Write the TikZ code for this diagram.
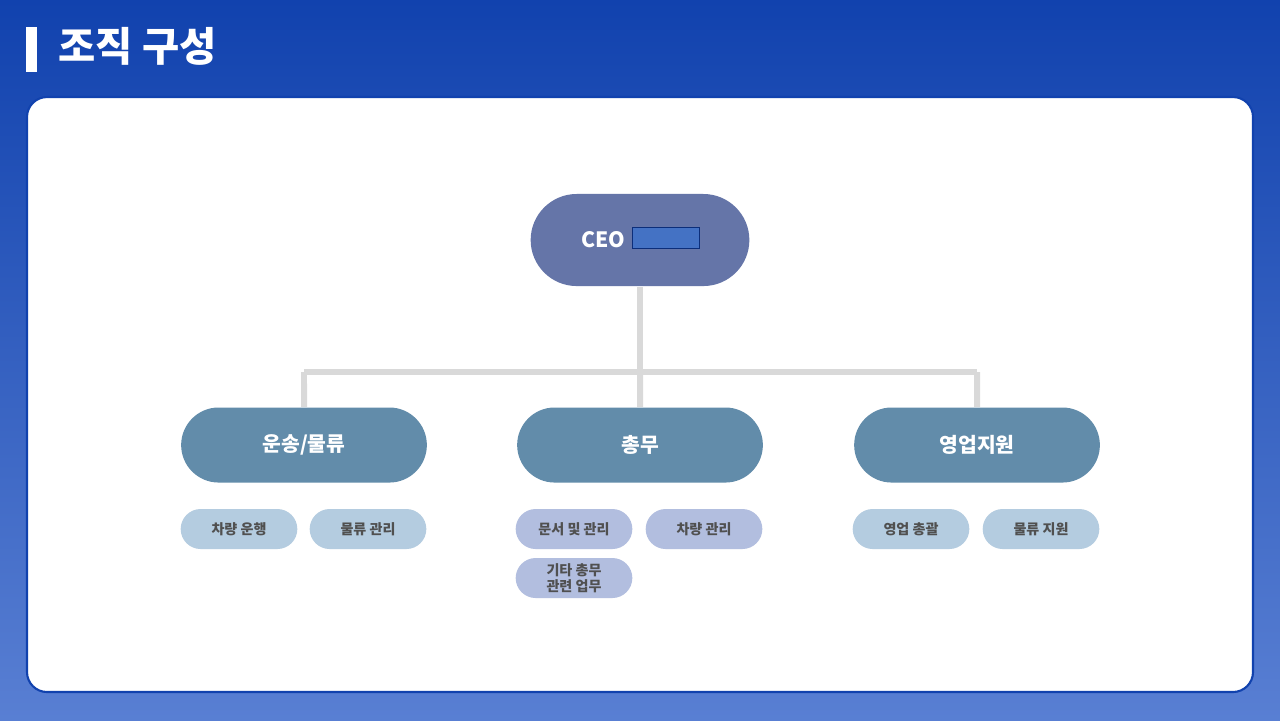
\documentclass[tikz,border=0pt]{standalone}
\usepackage{fontspec}
\setmainfont{Noto Sans CJK KR}
\usepackage{xcolor}
\usepackage{tikz}
\usetikzlibrary{positioning,shapes}
\definecolor{bgblue}{HTML}{2F5FC8}
\definecolor{topblue}{HTML}{1142AE}
\definecolor{ceocol}{HTML}{6575A8}
\definecolor{deptcol}{HTML}{628CAA}
\definecolor{taskA}{HTML}{B4CCE0}
\definecolor{taskB}{HTML}{B2BEDF}
\definecolor{linkgray}{HTML}{D9D9D9}
\definecolor{taskText}{HTML}{505050}
\definecolor{maskblue}{HTML}{4472C4}

\begin{document}
\begin{tikzpicture}[x=0.01cm,y=-0.01cm,
    ceo/.style={draw=none, rounded rectangle, fill=ceocol, minimum width=2.42cm, minimum height=0.92cm, text=white, font=\bfseries\fontsize{6}{7}\selectfont},
    dept/.style={draw=none, rounded rectangle, fill=deptcol, minimum width=2.69cm, minimum height=0.75cm, text=white, font=\bfseries\fontsize{5.8}{7}\selectfont},
    task/.style={draw=none, rounded rectangle, fill=taskA, minimum width=1.40cm, minimum height=0.40cm, inner ysep=0.5pt, text=taskText, align=center, font=\bfseries\fontsize{4}{4.4}\selectfont},
    link/.style={draw=linkgray, line width=1.7pt}]
    % background and panel
    \fill[top color=topblue, bottom color=bgblue!80!white] (0,0) rectangle (1280,720);
    \fill[white] (26,27) rectangle (37,72);
    \node[anchor=west, text=white, font=\bfseries\fontsize{11.5}{13}\selectfont] (title) at (46,46) {조직 구성};
    \draw[fill=white, draw=topblue, line width=0.6pt, rounded corners=0.2cm] (27,97) rectangle (1253,692);

    \node[ceo] (ceo) at (640,240) {};
    \node[text=white, font=\bfseries\fontsize{6}{7}\selectfont] (ceolabel) at (603,240) {CEO};
    \node[draw=topblue!70!black, fill=maskblue, minimum width=0.67cm, minimum height=0.21cm, inner sep=0pt] (mask) at (666,238) {};

    \node[dept] (d1) at (304,445) {운송/물류};
    \node[dept] (d2) at (640,445) {총무};
    \node[dept] (d3) at (977,445) {영업지원};

    \coordinate (hub) at (640,372);
    \coordinate (hubL) at (304,372);
    \coordinate (hubR) at (977,372);
    \draw[link] (ceo) -- (hub);
    \draw[link] (hubL) -- (hubR);
    \draw[link] (hubL) -- (d1);
    \draw[link] (hub) -- (d2);
    \draw[link] (hubR) -- (d3);

    \node[task] (t1) at (239,529) {차량 운행};
    \node[task] (t2) at (368,529) {물류 관리};
    \node[task, fill=taskB] (t3) at (574,529) {문서 및 관리};
    \node[task, fill=taskB] (t4) at (704,529) {차량 관리};
    \node[task, fill=taskB] (t5) at (574,578) {기타 총무\\관련 업무};
    \node[task] (t6) at (911,529) {영업 총괄};
    \node[task] (t7) at (1041,529) {물류 지원};
\end{tikzpicture}
\end{document}
